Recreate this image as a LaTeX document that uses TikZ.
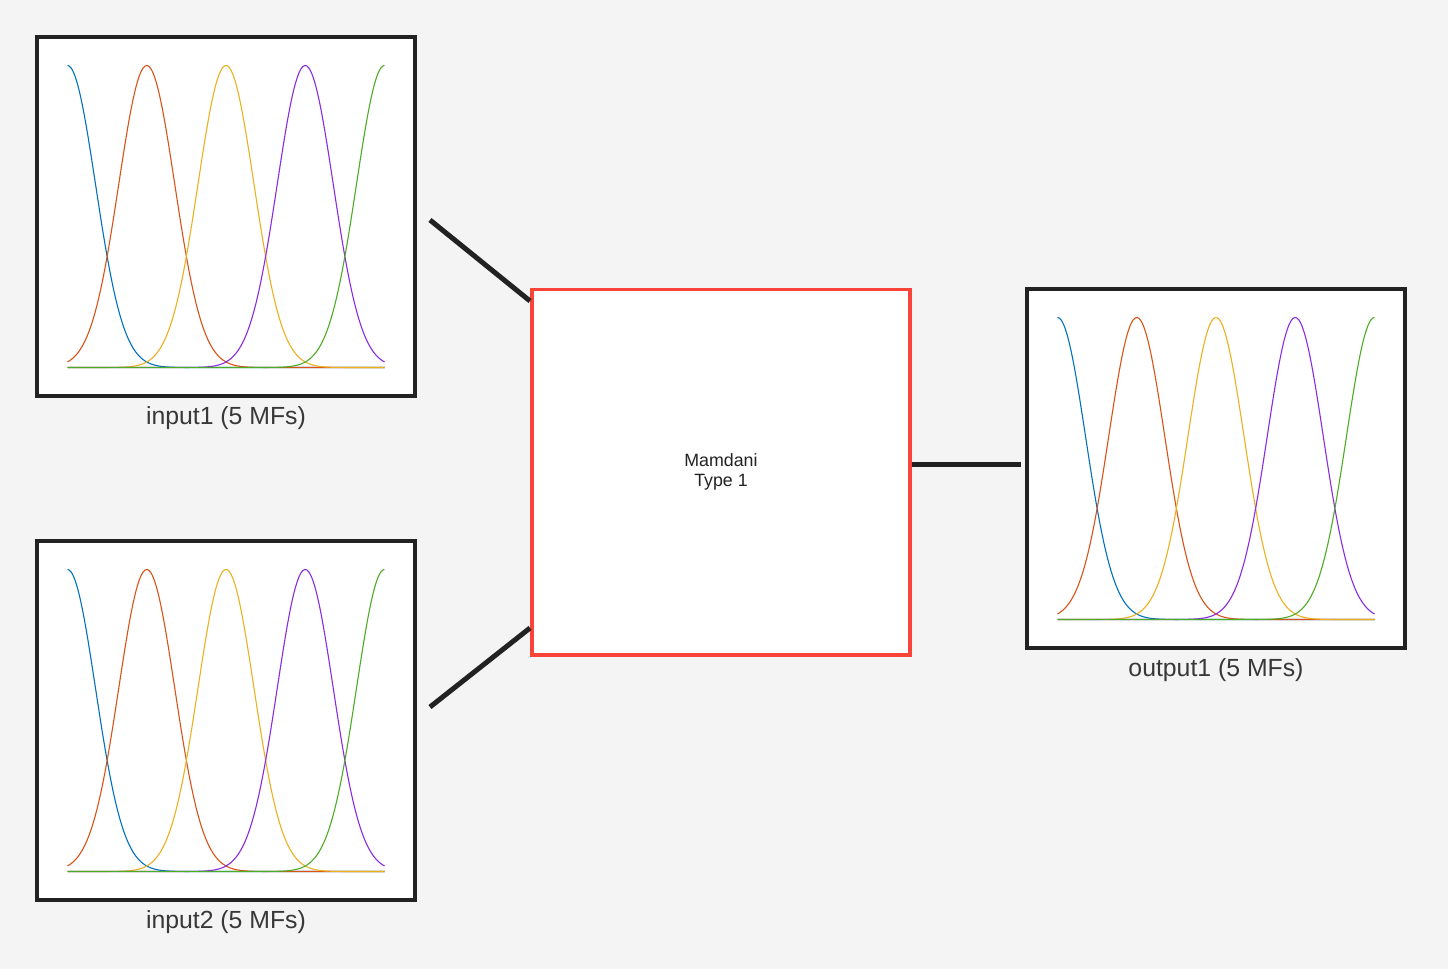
\documentclass[tikz,border=0pt]{standalone}
\usepackage{fontspec}
\setmainfont{Liberation Sans}
\usetikzlibrary{positioning}

\definecolor{bggray}{RGB}{244,244,244}
\definecolor{framegray}{RGB}{34,34,34}
\definecolor{fisred}{RGB}{250,68,58}
\definecolor{mfblue}{RGB}{0,114,189}
\definecolor{mforange}{RGB}{217,83,25}
\definecolor{mfyellow}{RGB}{237,177,32}
\definecolor{mfpurple}{RGB}{139,43,226}
\definecolor{mfgreen}{RGB}{77,172,38}

%% five gaussian MFs inside a variable box
\newcommand\mfcurves[1]{%
  \begin{scope}[shift={(#1.center)}]
    \foreach \c/\col in {0/mfblue,1/mforange,2/mfyellow,3/mfpurple,4/mfgreen}{
      \draw[\col,line width=0.55pt] plot[domain=-158.5:158.5,samples=160,smooth]
        (\x,{151-302*exp(0-((\x+158.5-79.25*\c)/39.62)^2)});
    }
  \end{scope}}

\begin{document}
\begin{tikzpicture}[x=0.5pt,y=-0.5pt,
    varbox/.style={draw=framegray,line width=2pt,fill=white,
      minimum width=189pt,minimum height=179.5pt,inner sep=0pt},
    fisbox/.style={draw=fisred,line width=1.8pt,fill=white,
      minimum width=189.2pt,minimum height=182.7pt,align=center,
      font=\fontsize{8.9}{10}\selectfont,text=framegray},
    varlabel/.style={inner sep=0pt,font=\fontsize{12.4}{14}\selectfont,text=framegray!90},
    wire/.style={framegray,line width=2.5pt}]
  \fill[bggray] (0,0) rectangle (1448,969);
  \useasboundingbox (0,0) rectangle (1448,969);

  %% variables
  \node[varbox] (in1) at (226,216.5) {};
  \node[varbox] (in2) at (226,720.5) {};
  \node[varbox] (out1) at (1216,468.5) {};
  \mfcurves{in1}
  \mfcurves{in2}
  \mfcurves{out1}
  \node[varlabel,below=4pt of in1] (in1lab) {input1 (5 MFs)};
  \node[varlabel,below=4pt of in2] (in2lab) {input2 (5 MFs)};
  \node[varlabel,below=4pt of out1] (out1lab) {output1 (5 MFs)};

  %% system
  \node[fisbox] (fis) at (721,472) {Mamdani\\Type 1};

  %% connections
  \draw[wire] ([xshift=6.5pt,yshift=-1.75pt]in1.east) -- ([yshift=-6.75pt]fis.north west);
  \draw[wire] ([xshift=6.5pt,yshift=6.75pt]in2.east) -- ([yshift=14.25pt]fis.south west);
  \draw[wire] ([yshift=4pt]fis.east) coordinate (fisout) -- ([xshift=-2pt]out1.west |- fisout);
\end{tikzpicture}
\end{document}
